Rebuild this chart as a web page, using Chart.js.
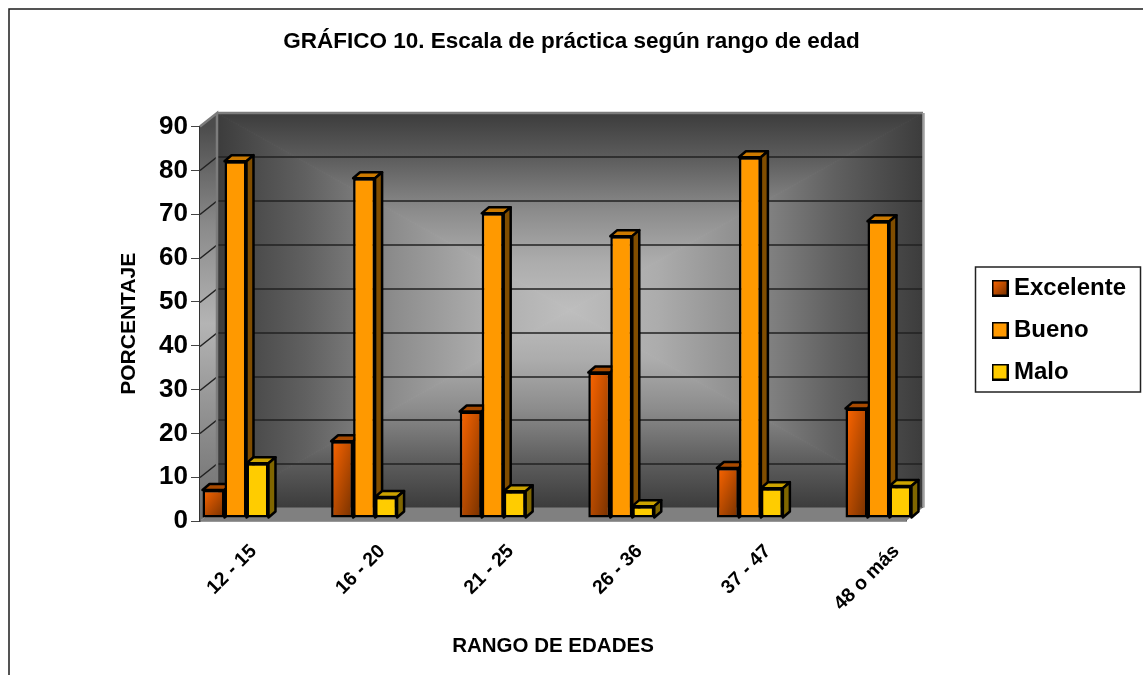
<!DOCTYPE html>
<html>
<head>
<meta charset="utf-8">
<title>Escala de práctica según rango de edad</title>
<script src="https://cdn.jsdelivr.net/npm/chart.js@4"></script>
<style>
    body { margin: 0; background: #fff; }
    canvas { display: block; }
</style>
</head>
<body>
<canvas id="barChart" width="1143" height="675"></canvas>
<script>
const categories = ['12 - 15', '16 - 20', '21 - 25', '26 - 36', '37 - 47', '48 o más'];
const excelente = [6.4, 17.5, 24.3, 33.2, 11.4, 25];
const bueno = [81.4, 77.5, 69.5, 64.3, 82.3, 67.7];
const malo = [12.5, 4.8, 6.1, 2.7, 6.8, 7.3];
const yTicks = [0, 10, 20, 30, 40, 50, 60, 70, 80, 90];

const FONT = '"Liberation Sans", Arial, sans-serif';
const WALL_DX = 17, WALL_DY = -13.5;   // depth of the box behind the axes
const BAR_DX = 7, BAR_DY = -6;         // depth of each bar
const BAR_LIFT = -3;                   // bars stand a little behind the front edge
const GROUP_SHARE = 0.513;             // part of each category taken by its bars

// top and side faces for each series
const faces = [
    { top: '#a84a00', side: '#803300' },
    { top: '#cc7a00', side: '#804d00' },
    { top: '#cca300', side: '#806600' }
];

// diagonal fade from the top left corner of a box to its bottom right corner
function orangeGradient(ctx, l, t, w, h) {
    const k = 2 * w * h / (w * w + h * h);
    const g = ctx.createLinearGradient(l, t, l + h * k, t + w * k);
    g.addColorStop(0, '#ff6600');
    g.addColorStop(1, '#733000');
    return g;
}

function swatch(color) {
    const c = document.createElement('canvas');
    c.width = c.height = 17;
    const s = c.getContext('2d');
    s.fillStyle = color === 'gradient' ? orangeGradient(s, 1, 1, 15, 15) : color;
    s.fillRect(1, 1, 15, 15);
    s.strokeStyle = '#000';
    s.lineWidth = 2;
    s.strokeRect(1, 1, 15, 15);
    return c;
}

function poly(ctx, pts, fill) {
    ctx.beginPath();
    pts.forEach((p, i) => i ? ctx.lineTo(p[0], p[1]) : ctx.moveTo(p[0], p[1]));
    ctx.closePath();
    if (fill) {
        ctx.fillStyle = fill;
        ctx.fill();
    }
}

// back wall: four wedges that get brighter towards the centre
function drawBackWall(ctx, x0, y0, x1, y1) {
    const cx = (x0 + x1) / 2, cy = (y0 + y1) / 2;
    const stops = g => {
        g.addColorStop(0, '#3c3c3c');
        g.addColorStop(0.25, '#606060');
        g.addColorStop(0.5, '#8c8c8c');
        g.addColorStop(0.75, '#acacac');
        g.addColorStop(1, '#bebebe');
        return g;
    };
    const wedges = [
        [[x0, y0], [x1, y0], [cx, cy], ctx.createLinearGradient(0, y0, 0, cy)],
        [[x1, y1], [x0, y1], [cx, cy], ctx.createLinearGradient(0, y1, 0, cy)],
        [[x0, y1], [x0, y0], [cx, cy], ctx.createLinearGradient(x0, 0, cx, 0)],
        [[x1, y0], [x1, y1], [cx, cy], ctx.createLinearGradient(x1, 0, cx, 0)]
    ];
    wedges.forEach(w => {
        const g = stops(w[3]);
        poly(ctx, w.slice(0, 3), g);
        ctx.strokeStyle = g;
        ctx.lineWidth = 1;
        ctx.stroke();
    });
}

const boxPlugin = {
    id: 'box3d',
    afterLayout(chart) {
        // legend sits to the right of the box, clear of the layout
        chart.legend.left = 980;
        chart.legend.top = 258;
        chart.legend.right = chart.width;
        chart.legend.bottom = chart.height;
        chart.titleBlock.left = 0;
        chart.titleBlock.right = chart.width;
    },
    beforeDraw(chart) {
        const ctx = chart.ctx;
        ctx.save();
        ctx.fillStyle = '#fff';
        ctx.fillRect(0, 0, chart.width, chart.height);
        ctx.strokeStyle = '#1c1c1c';
        ctx.lineWidth = 1.5;
        ctx.beginPath();
        ctx.moveTo(9, chart.height);
        ctx.lineTo(9, 9);
        ctx.lineTo(chart.width, 9);
        ctx.stroke();
        ctx.restore();
    },
    beforeDatasetsDraw(chart) {
        const ctx = chart.ctx, a = chart.chartArea, yScale = chart.scales.y;
        const bx0 = a.left + WALL_DX, bx1 = a.right + WALL_DX;
        const by0 = a.top + WALL_DY, by1 = a.bottom + WALL_DY;

        ctx.save();
        drawBackWall(ctx, bx0, by0, bx1, by1);

        // left wall
        const side = ctx.createLinearGradient(0, a.top, 0, a.bottom);
        side.addColorStop(0, '#4c4c4c');
        side.addColorStop(0.25, '#8a8a8a');
        side.addColorStop(0.5, '#b4b4b4');
        side.addColorStop(0.75, '#8e8e8e');
        side.addColorStop(1, '#6e6e6e');
        poly(ctx, [[a.left, a.top], [bx0, by0], [bx0, by1], [a.left, a.bottom]], side);

        // floor
        poly(ctx, [[a.left, a.bottom], [bx0, by1], [bx1, by1], [a.right, a.bottom]], '#808080');

        // grid lines along the left and back walls
        ctx.strokeStyle = '#222';
        ctx.lineWidth = 1.5;
        yScale.ticks.forEach(t => {
            if (t.value === 0 || t.value === 90) return;
            const y = Math.round(yScale.getPixelForValue(t.value)) + 0.5;
            ctx.beginPath();
            ctx.moveTo(a.left, y);
            ctx.lineTo(bx0, y + WALL_DY);
            ctx.lineTo(bx1, y + WALL_DY);
            ctx.stroke();
        });

        // grey rim of the box
        ctx.strokeStyle = '#7c7c7c';
        ctx.lineWidth = 2.5;
        ctx.beginPath();
        ctx.moveTo(a.left, a.top);
        ctx.lineTo(bx0, by0);
        ctx.lineTo(bx0, by1);
        ctx.moveTo(bx0, by0);
        ctx.lineTo(bx1, by0);
        ctx.stroke();
        ctx.strokeStyle = '#a0a0a0';
        ctx.beginPath();
        ctx.moveTo(bx1 + 0.5, by0);
        ctx.lineTo(bx1 + 0.5, by1);
        ctx.stroke();
        ctx.restore();

        // bars go left to right so each one covers the side of its neighbour
        ctx.save();
        ctx.translate(0, BAR_LIFT);
        ctx.lineJoin = 'round';
        chart.data.datasets.forEach((ds, di) => {
            const f = faces[di];
            chart.getDatasetMeta(di).data.forEach(el => {
                const p = el.getProps(['x', 'y', 'base', 'width'], true);
                const l = p.x - p.width / 2, r = p.x + p.width / 2;
                ctx.strokeStyle = '#000';
                ctx.lineWidth = 2.5;
                poly(ctx, [[l, p.y], [l + BAR_DX, p.y + BAR_DY], [r + BAR_DX, p.y + BAR_DY], [r, p.y]], f.top);
                ctx.stroke();
                poly(ctx, [[r, p.y], [r + BAR_DX, p.y + BAR_DY], [r + BAR_DX, p.base + BAR_DY], [r, p.base]], f.side);
                ctx.stroke();
                el.draw(ctx);
            });
        });
        ctx.restore();
        return false;
    },
    afterDraw(chart) {
        const ctx = chart.ctx;
        ctx.save();
        ctx.strokeStyle = '#222';
        ctx.lineWidth = 1.5;
        ctx.strokeRect(975.5, 267, 165, 125);
        ctx.restore();
    }
};

const barConfig = {
    type: 'bar',
    data: {
        datasets: [
            {
                label: 'Excelente',
                data: excelente.map((v, i) => ({ x: i, y: v })),
                // the orange series fades to brown across each bar
                backgroundColor: c => {
                    if (!c.parsed) return '#ff6600';
                    const xs = c.chart.scales.x, ys = c.chart.scales.y;
                    const mid = xs.getPixelForValue(c.parsed.x), top = ys.getPixelForValue(c.parsed.y);
                    if (!isFinite(mid) || !isFinite(top)) return '#ff6600';
                    const w = (xs.getPixelForValue(1) - xs.getPixelForValue(0)) * GROUP_SHARE / 3;
                    return orangeGradient(c.chart.ctx, mid - 1.5 * w, top, w, ys.getPixelForValue(0) - top);
                },
                pointStyle: swatch('gradient')
            },
            { label: 'Bueno', data: bueno.map((v, i) => ({ x: i, y: v })), backgroundColor: '#ff9900', pointStyle: swatch('#ff9900') },
            { label: 'Malo', data: malo.map((v, i) => ({ x: i, y: v })), backgroundColor: '#ffcc00', pointStyle: swatch('#ffcc00') }
        ]
    },
    options: {
        responsive: false,
        animation: false,
        layout: { padding: { left: 117, right: 237, top: 0, bottom: 16 } },
        datasets: {
            bar: {
                categoryPercentage: GROUP_SHARE,
                barPercentage: 1,
                borderColor: '#000',
                borderWidth: 2.5,
                borderSkipped: false
            }
        },
        scales: {
            x: {
                type: 'linear',
                offset: false,
                min: -0.276,
                max: 5.214,
                grid: { display: false },
                border: { color: '#333', width: 1.5 },
                afterFit: s => { s.height = 138; },
                ticks: {
                    stepSize: 1,
                    includeBounds: false,
                    autoSkip: false,
                    minRotation: 45,
                    maxRotation: 45,
                    padding: 11,
                    labelOffset: 18,
                    color: '#000',
                    font: { family: FONT, size: 19.5, weight: 'bold' },
                    callback: v => categories[v]
                },
                title: {
                    display: true,
                    text: 'RANGO DE EDADES',
                    color: '#000',
                    font: { family: FONT, size: 20.5, weight: 'bold' },
                    padding: 0
                }
            },
            y: {
                min: yTicks[0],
                max: yTicks[yTicks.length - 1],
                afterFit: s => { s.width = 83; },
                grid: { drawOnChartArea: false, tickLength: 9, color: '#444' },
                border: { color: '#333', width: 1.5 },
                ticks: {
                    stepSize: 10,
                    padding: 3,
                    color: '#000',
                    font: { family: FONT, size: 26, weight: 'bold' }
                },
                title: {
                    display: true,
                    text: 'PORCENTAJE',
                    color: '#000',
                    font: { family: FONT, size: 21, weight: 'bold' },
                    padding: 0
                }
            }
        },
        plugins: {
            title: {
                display: true,
                text: 'GRÁFICO 10. Escala de práctica según rango de edad',
                color: '#000',
                font: { family: FONT, size: 22.5, weight: 'bold' },
                padding: { top: 28.5, bottom: 71 }
            },
            legend: {
                position: 'chartArea',
                align: 'start',
                labels: {
                    usePointStyle: true,
                    pointStyleWidth: 4,
                    padding: 18,
                    color: '#000',
                    font: { family: FONT, size: 24, weight: 'bold' }
                }
            },
            tooltip: { enabled: false }
        }
    },
    plugins: [boxPlugin]
};

const ctxBar = document.getElementById('barChart').getContext('2d');
const barChart = new Chart(ctxBar, barConfig);
</script>
</body>
</html>
